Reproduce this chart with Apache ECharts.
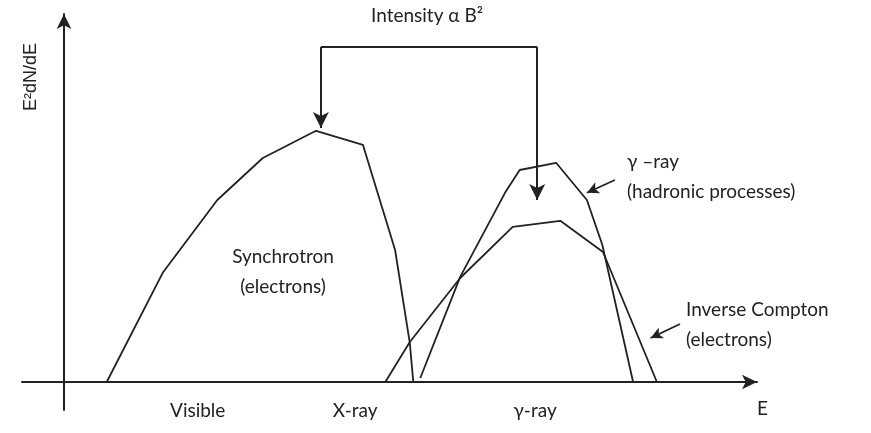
<!DOCTYPE html>
<html lang="en">
<head>
    <meta charset="UTF-8">
    <title>Spectrum sketch</title>
    <script src="https://cdn.jsdelivr.net/npm/echarts@6/dist/echarts.min.js"></script>
</head>
<body style="margin:0;background:#fff">
<div id="main" style="width: 871px;height:433px;"></div>
<script type="text/javascript">

    // curve shapes (E in arbitrary units, E2dN/dE in arbitrary units)
    var synchrotron = [[6.1,0],[14.1,27.3],[21.9,45.5],[28.4,56],[36,62.8],[42.7,59.3],[47.3,33],[49.4,9.8],[49.9,0]];
    var gammaHadronic = [[50.9,1],[56.6,26.3],[63,47.3],[65.1,53],[70.3,54.8],[74.7,45.5],[76.9,34.3],[81.3,0]];
    var inverseCompton = [[45.9,0],[49.4,10],[56.6,26],[64.1,38.8],[70.9,40.3],[77,32.5],[84.7,0]];

    // band labels under the E axis
    var bandLabels = ['Visible', 'X-ray', 'γ-ray'];
    var bandPos = [19.1, 41.6, 67.3];

    var txtFont = 'Lato, "Open Sans", sans-serif';
    var ink = '#222';

    var myChart = echarts.init(document.getElementById('main'));

    function seg(a, b, arrow) {
        return [
            {coord: a, symbol: 'none'},
            {coord: b, symbol: arrow ? 'arrow' : 'none'}
        ];
    }

    myChart.setOption({
        animation: false,
        grid: {left: 22, right: 114, top: 14, bottom: 23, outerBoundsMode: 'none'},
        xAxis: {
            type: 'value',
            min: -6,
            max: 99,
            splitLine: {show: false},
            axisTick: {show: false},
            axisLine: {
                onZero: true,
                symbol: ['none', 'arrow'],
                symbolSize: [11, 15],
                lineStyle: {color: '#222', width: 2}
            },
            axisLabel: {
                customValues: bandPos,
                formatter: function (v) {
                    var i = bandPos.indexOf(v);
                    return i >= 0 ? bandLabels[i] : '';
                },
                margin: -9,
                color: ink,
                fontSize: 19,
                fontFamily: txtFont
            }
        },
        yAxis: {
            type: 'value',
            min: -7,
            max: 92,
            splitLine: {show: false},
            axisTick: {show: false},
            axisLabel: {show: false},
            axisLine: {
                onZero: true,
                symbol: ['none', 'arrow'],
                symbolSize: [11, 15],
                lineStyle: {color: '#222', width: 2}
            }
        },
        series: [
            {
                name: 'Synchrotron',
                type: 'line',
                data: synchrotron,
                symbol: 'none',
                lineStyle: {color: ink, width: 1.8},
                markLine: {
                    silent: true,
                    animation: false,
                    symbolSize: [12, 16],
                    label: {show: false},
                    lineStyle: {color: '#222', width: 2, type: 'solid'},
                    data: [
                        seg([36.7, 83.75], [67.6, 83.75], false),
                        seg([36.7, 83.75], [36.7, 63.5], true),
                        seg([67.6, 83.75], [67.6, 45.5], true)
                    ]
                }
            },
            {
                name: 'gamma-ray (hadronic)',
                type: 'line',
                data: gammaHadronic,
                symbol: 'none',
                lineStyle: {color: ink, width: 1.8},
                markLine: {
                    silent: true,
                    animation: false,
                    symbolSize: [9, 12],
                    label: {show: false},
                    lineStyle: {color: '#222', width: 1.8, type: 'solid'},
                    data: [
                        seg([78.7, 50.5], [74.7, 47.3], true)
                    ]
                }
            },
            {
                name: 'Inverse Compton',
                type: 'line',
                data: inverseCompton,
                symbol: 'none',
                lineStyle: {color: ink, width: 1.8},
                markLine: {
                    silent: true,
                    animation: false,
                    symbolSize: [9, 12],
                    label: {show: false},
                    lineStyle: {color: '#222', width: 1.8, type: 'solid'},
                    data: [
                        seg([88, 14.5], [83.8, 11], true)
                    ]
                }
            }
        ],
        graphic: [
            {type: 'text', left: 371, top: 6, style: {text: 'Intensity α B²', font: '19px ' + txtFont, fill: ink}},
            {type: 'text', x: 31, y: 77, rotation: Math.PI / 2, style: {text: 'E²dN/dE', font: '18px "Liberation Sans", Arial, sans-serif', fill: ink, align: 'center', verticalAlign: 'middle'}},
            {type: 'text', x: 283, y: 272, style: {text: 'Synchrotron\n(electrons)', font: '19px ' + txtFont, fill: ink, align: 'center', verticalAlign: 'middle', lineHeight: 30}},
            {type: 'text', left: 627, top: 147, style: {text: 'γ –ray\n(hadronic processes)', font: '19px ' + txtFont, fill: ink, lineHeight: 30}},
            {type: 'text', left: 686, top: 295, style: {text: 'Inverse Compton\n(electrons)', font: '19px ' + txtFont, fill: ink, lineHeight: 30}},
            {type: 'text', left: 757, top: 399, style: {text: 'E', font: '19px ' + txtFont, fill: ink}}
        ]
    });
</script>
</body>
</html>
